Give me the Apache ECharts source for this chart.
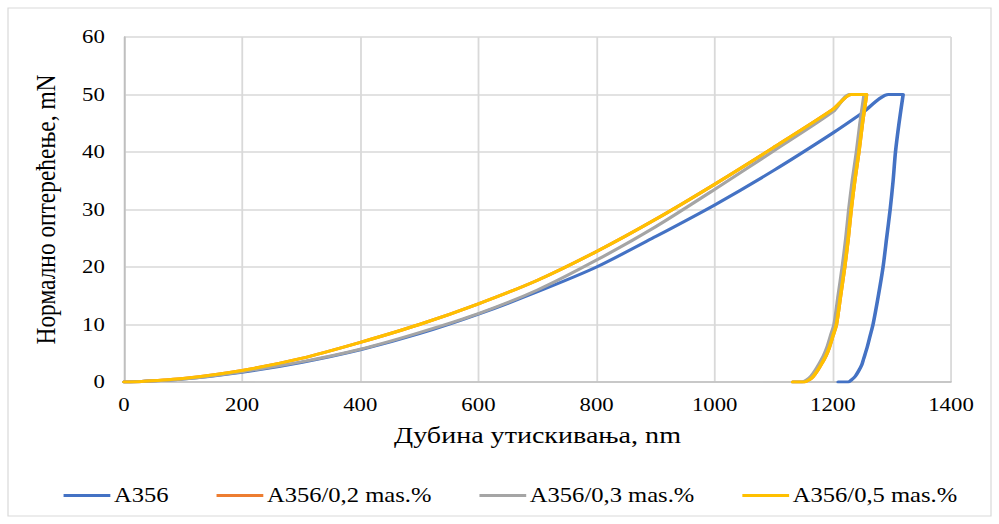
<!DOCTYPE html>
<html><head><meta charset="utf-8">
<script src="https://cdn.jsdelivr.net/npm/echarts@6/dist/echarts.min.js"></script>
<style>
html,body{margin:0;padding:0;background:#fff;overflow:hidden;}
#wrap{width:999px;height:524px;overflow:hidden;position:relative;}
#chart{width:833px;height:524px;transform:scaleX(1.19928);transform-origin:0 0;}
</style></head><body><div id="wrap"><div id="chart"></div></div>
<script>
// ---- data (depth in nm, load in mN) ----
const seriesNames = ['A356', 'A356/0,2 mas.%', 'A356/0,3 mas.%', 'A356/0,5 mas.%'];
const seriesColors = ['#4472C4', '#ED7D31', '#A5A5A5', '#FFC000'];

const a356Depth = [0, 30, 100, 200, 300, 400, 500, 600, 700, 800, 900, 1000, 1100, 1200, 1250, 1294, 1319, 1312, 1306, 1302, 1297, 1291, 1285, 1277, 1268, 1263, 1258, 1252, 1249, 1244, 1238, 1232, 1226, 1209];
const a356Load  = [0, 0.1, 0.5, 1.7, 3.4, 5.6, 8.4, 11.8, 15.7, 20.0, 25.3, 30.8, 36.8, 43.3, 46.8, 50, 50, 45, 40, 35, 30, 25, 20, 15, 10, 8, 6, 4, 3, 2, 1, 0.4, 0, 0];

const a356_02Depth = [0, 30, 100, 200, 300, 400, 500, 600, 700, 800, 900, 1000, 1100, 1200, 1231, 1257, 1250, 1244, 1237, 1231, 1226, 1220, 1213, 1206, 1200, 1194, 1188, 1181, 1174, 1167, 1160, 1152, 1132];
const a356_02Load  = [0, 0.1, 0.6, 2.0, 4.1, 6.9, 10.0, 13.6, 17.7, 22.7, 28.3, 34.4, 40.8, 47.4, 50, 50, 45, 40, 35, 30, 25, 20, 15, 10, 8, 6, 4.5, 3.2, 2, 1, 0.4, 0, 0];

const a356_03Depth = [0, 30, 100, 200, 300, 400, 500, 600, 700, 800, 900, 1000, 1100, 1200, 1228, 1253, 1246, 1240, 1233, 1227, 1222, 1216, 1209, 1202, 1196, 1190, 1184, 1177, 1170, 1163, 1156, 1148, 1132];
const a356_03Load  = [0, 0.1, 0.5, 1.8, 3.5, 5.7, 8.6, 11.9, 16.0, 21.2, 27.0, 33.5, 40.2, 47.0, 50, 50, 45, 40, 35, 30, 25, 20, 15, 10, 8, 6, 4.5, 3.2, 2, 1, 0.4, 0, 0];

const a356_05Depth = [0, 30, 100, 200, 300, 400, 500, 600, 700, 800, 900, 1000, 1100, 1200, 1231, 1257, 1250, 1244, 1237, 1231, 1226, 1220, 1213, 1206, 1200, 1194, 1188, 1181, 1174, 1167, 1160, 1152, 1132];
const a356_05Load  = [0, 0.1, 0.6, 2.0, 4.1, 6.9, 10.0, 13.6, 17.7, 22.7, 28.3, 34.4, 40.8, 47.4, 50, 50, 45, 40, 35, 30, 25, 20, 15, 10, 8, 6, 4.5, 3.2, 2, 1, 0.4, 0, 0];

const xAxisTitle = 'Дубина утискивања, nm';
const yAxisTitle = 'Нормално оптерећење, mN';

const depthSets = [a356Depth, a356_02Depth, a356_03Depth, a356_05Depth];
const loadSets = [a356Load, a356_02Load, a356_03Load, a356_05Load];

const zip = (xs, ys) => xs.map((x, i) => [x, ys[i]]);

const FONT = 'Liberation Serif';
const S = 999 / 833;

const chart = echarts.init(document.getElementById('chart'), null, { renderer: 'svg' });
chart.setOption({
  backgroundColor: '#fff',
  animation: false,
  textStyle: { fontFamily: FONT },
  graphic: [{
    type: 'rect',
    shape: { x: 8 / S, y: 8, width: (991 - 8) / S, height: 508 },
    style: { fill: 'none', stroke: '#D9D9D9', lineWidth: 1 },
    silent: true, z: -10
  }],
  grid: { left: 124 / S, right: 833 - 951 / S, top: 37, bottom: 142, containLabel: false },
  xAxis: {
    type: 'value', min: 0, max: 1400, interval: 200,
    name: xAxisTitle, nameLocation: 'middle', nameGap: 42,
    nameTextStyle: { fontFamily: FONT, fontSize: 23.4, color: '#000' },
    axisLine: { show: true, lineStyle: { color: '#BFBFBF', width: 1.5 } },
    axisTick: { show: false },
    axisLabel: { fontFamily: FONT, fontSize: 19, color: '#000', margin: 13, formatter: v => String(v) },
    splitLine: { show: true, lineStyle: { color: '#D9D9D9', width: 1.5 } }
  },
  yAxis: {
    type: 'value', min: 0, max: 60, interval: 10,
    name: yAxisTitle, nameLocation: 'middle', nameGap: 54,
    nameTextStyle: { fontFamily: FONT, fontSize: 23.4, color: '#000' },
    axisLine: { show: true, lineStyle: { color: '#BFBFBF', width: 1.5 } },
    axisTick: { show: false },
    axisLabel: { fontFamily: FONT, fontSize: 19, color: '#000', margin: 16, formatter: v => String(v) },
    splitLine: { show: true, lineStyle: { color: '#D9D9D9', width: 1.5 } }
  },
  legend: {
    left: 48, top: 480,
    icon: 'rect', itemWidth: 39, itemHeight: 3, itemGap: 40,
    textStyle: { fontFamily: FONT, fontSize: 20.5, color: '#000', padding: [0, 0, 0, -2] },
    data: seriesNames
  },
  series: seriesNames.map((name, i) => ({
    name, type: 'line',
    data: zip(depthSets[i], loadSets[i]),
    showSymbol: false, symbol: 'none',
    smooth: 0.25,
    lineStyle: { color: seriesColors[i], width: 3, join: 'round', cap: 'round' },
    itemStyle: { color: seriesColors[i] },
    z: 2 + i
  }))
});
</script></body></html>
